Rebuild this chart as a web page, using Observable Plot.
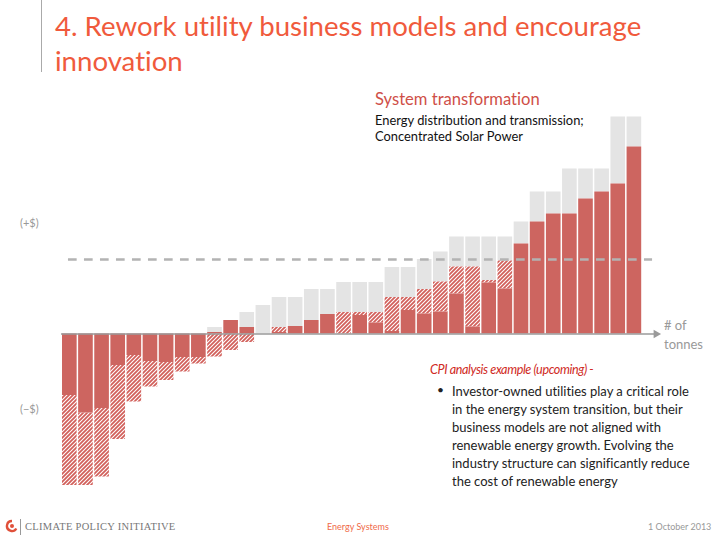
<!DOCTYPE html>
<html>
<head>
<meta charset="utf-8">
<script src="https://cdn.jsdelivr.net/npm/d3@7"></script>
<script src="https://cdn.jsdelivr.net/npm/@observablehq/plot@0.6"></script>
<style>
  html, body { margin: 0; padding: 0; background: #fff; }
  #root { position: relative; width: 720px; height: 540px; overflow: hidden; font-family: Lato, "Open Sans", sans-serif; font-variant-ligatures: none; }
  #chart { position: absolute; left: 0; top: 0; }
  .abs { position: absolute; white-space: nowrap; }
  #title { left: 55px; top: 8px; color: #f05a3c; font-size: 27.6px; line-height: 35px; font-weight: 400; }
  #vline { left: 41px; top: 0; width: 1px; height: 72px; background: #aaa; }
  #sysT { left: 375px; top: 89px; color: #cf4f48; font-size: 16.6px; }
  #sysD { left: 375px; top: 112px; color: #111; font-size: 12.9px; line-height: 16px; }
  .ylab { color: #999; font-size: 11px; }
  #unit { left: 664px; top: 316px; color: #999; font-size: 13px; line-height: 19px; }
  #cpiH { left: 430px; top: 362px; color: #d02a24; font-size: 12.6px; font-style: italic; letter-spacing: -0.4px; }
  #bullet { left: 437px; top: 382px; color: #222; font-size: 12px; }
  #cpiB { left: 452px; top: 382px; color: #222; font-size: 13px; line-height: 18px; }
  .foot { top: 521px; font-size: 9px; }
</style>
</head>
<body>
<svg width="0" height="0" style="position:absolute">
  <defs>
    <pattern id="hatch" patternUnits="userSpaceOnUse" width="4" height="4">
      <rect width="4" height="4" fill="#fff"/>
      <path d="M-1,1 L1,-1 M0,4 L4,0 M3,5 L5,3" stroke="#d2605b" stroke-width="1.8"/>
    </pattern>
  </defs>
</svg>
<div id="root">
  <div id="chart"></div>
  <div class="abs" id="vline"></div>
  <div class="abs" id="title">4. Rework utility business models and encourage<br>innovation</div>
  <div class="abs" id="sysT">System transformation</div>
  <div class="abs" id="sysD">Energy distribution and transmission;<br>Concentrated Solar Power</div>
  <div class="abs ylab" style="left:20px;top:216px;">(+$)</div>
  <div class="abs ylab" style="left:20px;top:402px;">(−$)</div>
  <div class="abs" id="unit"># of<br>tonnes</div>
  <div class="abs" id="cpiH">CPI analysis example (upcoming) -</div>
  <div class="abs" id="bullet">•</div>
  <div class="abs" id="cpiB">Investor-owned utilities play a critical role<br>in the energy system transition, but their<br>business models are not aligned with<br>renewable energy growth. Evolving the<br>industry structure can significantly reduce<br>the cost of renewable energy</div>
  <div class="abs foot" style="left:5px;top:519px;">
    <svg width="14" height="14" viewBox="0 0 14 14" style="vertical-align:middle">
      <path d="M7,2 a5,5 0 1,0 4.3,7.5" fill="none" stroke="#e0503a" stroke-width="2.4"/>
      <circle cx="7" cy="7" r="2" fill="#e0503a"/>
    </svg>
  </div>
  <div class="abs foot" style="left:20px;top:519px;width:1px;height:16px;background:#999;"></div>
  <div class="abs foot" style="left:25px;color:#777;font-family:'Liberation Serif',serif;font-size:10.5px;letter-spacing:0.3px;">CLIMATE POLICY INITIATIVE</div>
  <div class="abs foot" style="left:327px;color:#f06a4a;">Energy Systems</div>
  <div class="abs foot" style="left:648px;color:#999;">1 October 2013</div>
</div>
<script>
// Values per bar (arbitrary cost units; 0 = axis).
const posGray  = [0,0,0,0,0,0,0,0,0,0.65,0,2.15,2.85,3.65,3.65,4.45,4.45,5.15,5.15,5.15,6.65,6.65,7.45,8.2,9.7,9.7,9.7,9.7,11.2,14.2,14.2,16.5,16.5,16.5,21.7,21.7];
const posHatch = [0,0,0,0,0,0,0,0,0,0,0,0,0,0.65,0,0,0,2.15,2.15,2.15,3.65,3.65,4.45,5.2,6.7,6.7,5.35,7.3,0,0,0,0,0,0,0,0];
const posSolid = [0,0,0,0,0,0,0,0,0,0.15,1.35,0.65,0,0.15,0.75,1.35,1.95,0,1.85,1.1,0.25,2.35,2.0,2.2,4.0,0.7,5.1,4.5,9.0,11.2,12.0,12.0,13.5,14.2,15.0,18.7];
const negSolid = [-6.15,-7.9,-7.45,-3.15,-2.15,-2.75,-2.85,-2.35,-2.35,0,0,0,0,0,0,0,0,0,0,0,0,0,0,0,0,0,0,0,0,0,0,0,0,0,0,0];
const negHatch = [-15.15,-15.15,-14.3,-10.55,-6.8,-5.3,-4.65,-3.8,-3.0,-2.3,-1.65,-0.85,0,0,0,0,0,0,0,0,0,0,0,0,0,0,0,0,0,0,0,0,0,0,0,0];
const threshold = [7.45];

const n = posGray.length;
const segs = [];
for (let i = 0; i < n; i++) {
  const top = Math.max(posSolid[i], posHatch[i]);
  if (posGray[i] > top) segs.push({i, y1: top, y2: posGray[i], kind: "gray"});
  if (posHatch[i] > posSolid[i]) segs.push({i, y1: posSolid[i], y2: posHatch[i], kind: "hatch"});
  if (posSolid[i] > 0) segs.push({i, y1: 0, y2: posSolid[i], kind: "solid"});
  if (negSolid[i] < 0) segs.push({i, y1: negSolid[i], y2: 0, kind: "solid"});
  if (negHatch[i] < Math.min(0, negSolid[i])) segs.push({i, y1: negHatch[i], y2: Math.min(0, negSolid[i]), kind: "hatch"});
}
const fills = {gray: "#e4e4e4", hatch: "url(#hatch)", solid: "#cd6560"};
const barMark = kind => Plot.rect(segs.filter(d => d.kind === kind), {
  x1: "i", x2: d => d.i + 1, y1: "y1", y2: "y2",
  insetRight: 1.5, fill: fills[kind]
});

const chart = Plot.plot({
  width: 720, height: 540,
  marginLeft: 62, marginRight: 77.3, marginTop: 0, marginBottom: 0,
  x: {type: "linear", domain: [0, n], axis: null},
  y: {domain: [-20.65, 33.35], axis: null},
  style: {background: "transparent", overflow: "visible"},
  marks: [
    barMark("gray"),
    barMark("hatch"),
    barMark("solid"),
    Plot.ruleY([0], {x1: -0.06, x2: n + 0.75, stroke: "#9a9a9a", strokeWidth: 1.6}),
    Plot.dot([0], {x: n + 0.8, y: 0, symbol: "triangle", rotate: 90, r: 3.2, fill: "#9a9a9a", stroke: "none"}),
    Plot.ruleY(threshold, {x1: 0.37, x2: n + 0.58, stroke: "#b3b3b3", strokeWidth: 2.6, strokeDasharray: "8.7,7.3"})
  ]
});
document.getElementById("chart").appendChild(chart);
</script>
</body>
</html>
